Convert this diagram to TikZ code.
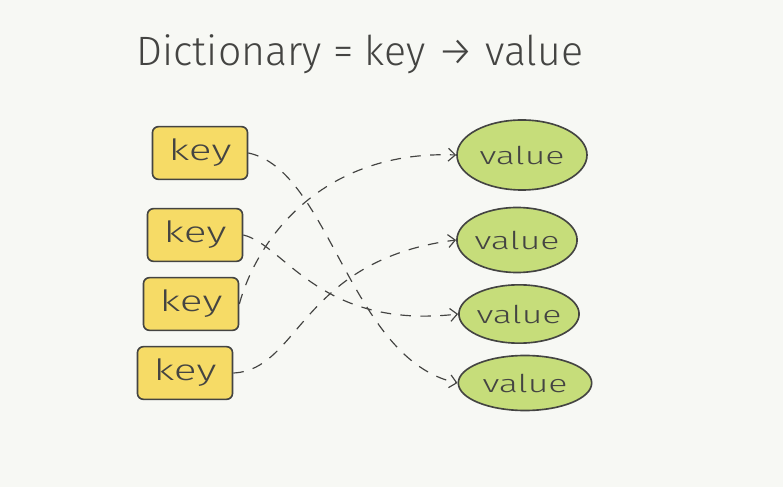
\documentclass[tikz,border=0pt]{standalone}
\usepackage{fontspec}
\setmainfont[FakeStretch=1.45]{Fira Sans Light}
\newfontfamily\titlehand{Fira Sans Light}
\usetikzlibrary{arrows.meta,shapes.geometric}
\definecolor{paper}{HTML}{F7F8F4}
\definecolor{keyfill}{HTML}{F6DB66}
\definecolor{valfill}{HTML}{C6DD7A}
\definecolor{pencil}{HTML}{444442}

\begin{document}
\begin{tikzpicture}[x=0.03cm,y=-0.03cm]
\tikzstyle{every node}+=[text=pencil]
\tikzstyle{keybox}=[draw=pencil, line width=1.4pt, fill=keyfill, rounded corners=5pt, minimum width=2.85cm, minimum height=1.58cm, font=\fontsize{25}{25}\selectfont]
\tikzstyle{valblob}=[ellipse, draw=pencil, line width=1.4pt, fill=valfill, inner sep=0pt, font=\fontsize{21}{21}\selectfont]
\tikzstyle{link}=[draw=pencil, line width=1pt, dash pattern=on 9pt off 8pt, -{Straight Barb[length=6pt,width=11pt]}]
\fill [paper] (0,0) rectangle (783,487);
\node [font=\titlehand\fontsize{35}{35}\selectfont] (title) at (360,54) {Dictionary = key → value};
% keys
\node [keybox] (k1) at (200,153) {key};
\node [keybox] (k2) at (195,235) {key};
\node [keybox] (k3) at (191,304) {key};
\node [keybox] (k4) at (185,373) {key};
% values
\node [valblob, minimum width=3.9cm, minimum height=2.1cm] (v1) at (522,155) {value};
\node [valblob, minimum width=3.55cm, minimum height=1.95cm] (v2) at (517,240) {value};
\node [valblob, minimum width=3.5cm, minimum height=1.75cm] (v3) at (519,314) {value};
\node [valblob, minimum width=4cm, minimum height=1.65cm] (v4) at (525,383) {value};
% links
\draw [link] (k1.east) .. controls (330,170) and (350,360) .. (v4.west);
\draw [link] (k2.east) .. controls (285,245) and (320,330) .. (v3.west);
\draw [link] (k3.east) .. controls (260,230) and (330,150) .. (v1.west);
\draw [link] (k4.east) .. controls (300,370) and (300,260) .. (v2.west);
\end{tikzpicture}
\end{document}
